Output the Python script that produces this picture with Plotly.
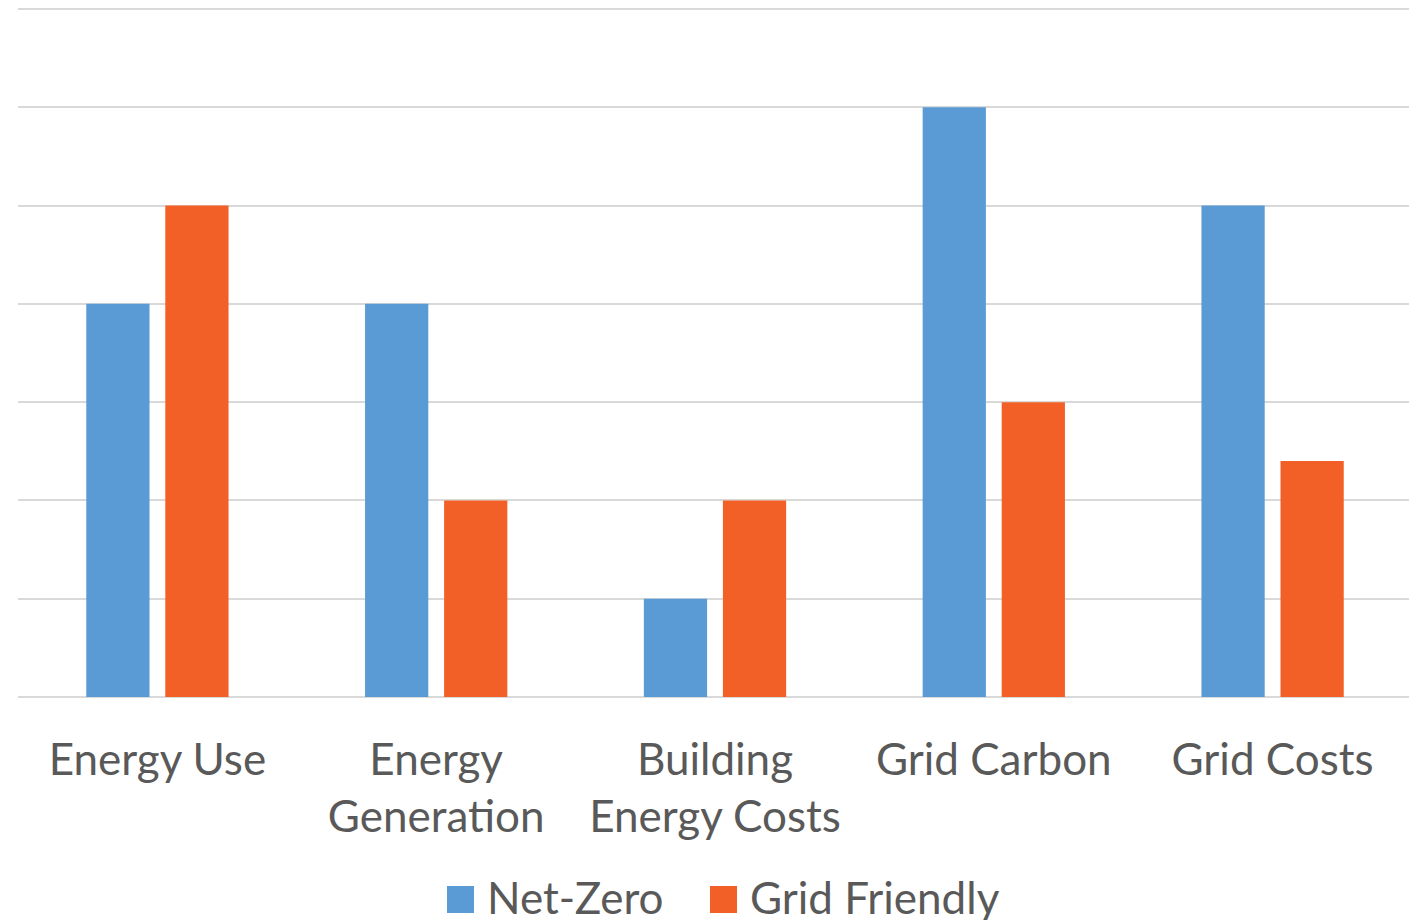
import plotly.graph_objects as go

categories = ["Energy Use", "Energy<br>Generation", "Building<br>Energy Costs", "Grid Carbon", "Grid Costs"]
net_zero = [4, 4, 1, 6, 5]
grid_friendly = [5, 2, 2, 3, 2.4]
series_names = ["Net-Zero", "Grid Friendly"]
colors = ["#5B9BD5", "#F26027"]
y_max = 7

FONT = "Lato"
TXT = "#595959"
FS = 44
GRID = "#D9D9D9"

# page body has an 8px margin; work in page pixels and convert
OFF = 8
PL, PR, PT, PB = 18, 1412, 8, 697   # plot area in page pixels
W, H = 1417, 920
pw, ph = PR - PL, PB - PT


def px(x):
    return (x - PL) / pw


def py(y):
    return (PB - y) / ph


fig = go.Figure()
fig.add_trace(go.Bar(x=categories, y=net_zero, name=series_names[0],
                     marker=dict(color=colors[0], line=dict(width=0)), showlegend=False))
fig.add_trace(go.Bar(x=categories, y=grid_friendly, name=series_names[1],
                     marker=dict(color=colors[1], line=dict(width=0)), showlegend=False))

# top gridline (plotly clips gridlines right at the plot edge)
fig.add_shape(type="line", xref="paper", yref="y", x0=0, x1=1, y0=y_max, y1=y_max,
              line=dict(color=GRID, width=2), layer="below")

# manual legend (large square swatches like the original)
legend_items = [(series_names[0], colors[0], 447), (series_names[1], colors[1], 710)]
for name, col, x0 in legend_items:
    fig.add_shape(type="rect", xref="paper", yref="paper",
                  x0=px(x0), x1=px(x0 + 27), y0=py(913), y1=py(886),
                  fillcolor=col, line=dict(width=0))
    fig.add_annotation(text=name, xref="paper", yref="paper",
                       x=px(x0 + 38), y=py(897),
                       xanchor="left", yanchor="middle", showarrow=False,
                       font=dict(family=FONT, size=FS, color=TXT))

fig.update_layout(
    width=W, height=H,
    margin=dict(l=PL - OFF, r=W - (PR - OFF), t=PT - OFF, b=H - (PB - OFF)),
    paper_bgcolor="white", plot_bgcolor="white",
    barmode="group", bargap=0.433, bargroupgap=0.2,
    font=dict(family=FONT, size=FS, color=TXT),
)
fig.update_xaxes(showline=False, ticks="", tickfont=dict(family=FONT, size=FS, color=TXT),
                 ticklabelstandoff=33, tickangle=0)
fig.update_yaxes(range=[0, y_max * ph / (PB - 9)], dtick=1, showticklabels=False, showgrid=True,
                 gridcolor=GRID, gridwidth=2, zeroline=True, zerolinecolor=GRID,
                 zerolinewidth=2)

fig.write_html("out.html")
